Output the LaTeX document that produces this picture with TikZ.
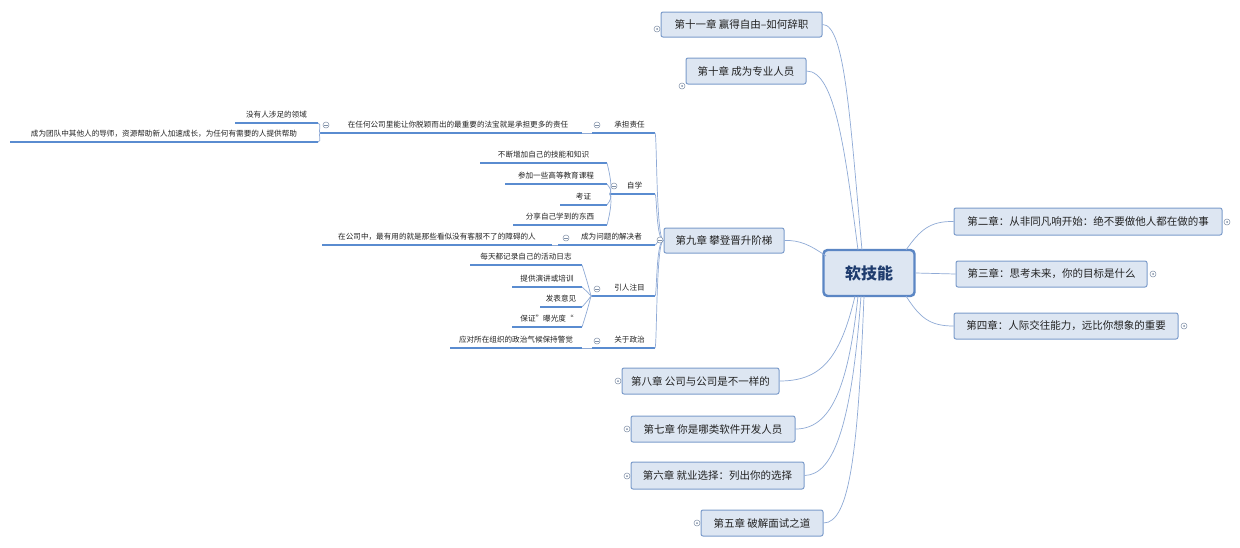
\documentclass[tikz,border=0pt]{standalone}
\usepackage{fontspec}
\setmainfont{Noto Sans CJK SC}
\begin{document}
\begin{tikzpicture}[x=1pt,y=-1pt,
  chap/.style={draw=boxline,fill=boxfill,rounded corners=2pt,line width=1pt,inner sep=0pt,font=\fontsize{10.5}{12}\selectfont,text=txt},
  cen/.style={draw=cenline,fill=boxfill,rounded corners=4pt,line width=2.4pt,inner sep=0pt,font=\fontsize{16}{18}\selectfont\bfseries,text=centxt},
  lt/.style={font=\fontsize{7.6}{9}\selectfont,text=txt,inner sep=0pt},
  ul/.style={draw=ulc,line width=1.3pt},
  br/.style={draw=brc,line width=0.7pt},
  mk/.style={draw=mkc,line width=0.5pt,fill=white}]
\definecolor{boxline}{HTML}{7C9CCB}
\definecolor{boxfill}{HTML}{DDE6F2}
\definecolor{cenline}{HTML}{5B86C4}
\definecolor{centxt}{HTML}{1F3C6E}
\definecolor{txt}{HTML}{222222}
\definecolor{ulc}{HTML}{5A8CD0}
\definecolor{brc}{HTML}{8FAAD6}
\definecolor{mkc}{HTML}{7F8FA6}
\useasboundingbox[fill=white] (0,0) rectangle (1240,547);
\newcommand\leaf[5]{%
  \coordinate (#1-l) at (#2,#4); \coordinate (#1-r) at (#3,#4);
  \node[lt] (#1) at ({(#2+#3)/2},{#4-8}) {#5};
  \draw[ul] (#1-l) -- (#1-r);}
\newcommand\mkminus[2]{\draw[mk] (#1,#2) circle (3); \draw[mkc,line width=0.5pt] (#1-1.6,#2) -- (#1+1.6,#2);}
\newcommand\mkdot[2]{\draw[mk] (#1,#2) circle (3); \fill[mkc] (#1,#2) circle (1);}
% boxes
\node[cen,minimum width=91,minimum height=46] (c) at (869,273) {软技能};
\node[chap,minimum width=161,minimum height=25] (n11) at (741.5,24.5) {第十一章 赢得自由--如何辞职};
\node[chap,minimum width=120,minimum height=26] (n10) at (746,71) {第十章 成为专业人员};
\node[chap,minimum width=120,minimum height=25] (n9) at (724,240.5) {第九章 攀登晋升阶梯};
\node[chap,minimum width=268,minimum height=27] (n2) at (1088,221.5) {第二章：从非同凡响开始：绝不要做他人都在做的事};
\node[chap,minimum width=191,minimum height=26] (n3) at (1051.5,274) {第三章：思考未来，你的目标是什么};
\node[chap,minimum width=224,minimum height=26] (n4) at (1066,326) {第四章：人际交往能力，远比你想象的重要};
\node[chap,minimum width=157,minimum height=26] (n8) at (700.5,381) {第八章 公司与公司是不一样的};
\node[chap,minimum width=164,minimum height=26] (n7) at (713,429) {第七章 你是哪类软件开发人员};
\node[chap,minimum width=173,minimum height=27] (n6) at (717.5,475.5) {第六章 就业选择：列出你的选择};
\node[chap,minimum width=122,minimum height=26] (n5) at (762,523) {第五章 破解面试之道};
% main branches
\draw[br] (862,250) .. controls (850,120) and (845,24) .. (n11.east);
\draw[br] (858,250) .. controls (845,150) and (835,71) .. (n10.east);
\draw[br] (826,256) .. controls (810,245) and (800,240) .. (n9.east);
\draw[br] (906,250) .. controls (920,230) and (930,221) .. (n2.west);
\draw[br] (c.east) -- (n3.west);
\draw[br] (906,296) .. controls (920,318) and (930,326) .. (n4.west);
\draw[br] (855,296) .. controls (840,360) and (820,381) .. (n8.east);
\draw[br] (858,296) .. controls (848,390) and (830,429) .. (n7.east);
\draw[br] (861,296) .. controls (852,420) and (835,475) .. (n6.east);
\draw[br] (864,296) .. controls (858,450) and (850,523) .. (n5.east);
% collapse markers
\mkdot{657}{29} \mkdot{682}{86} \mkdot{1227}{222} \mkdot{1153}{274} \mkdot{1184}{326}
\mkdot{618}{381} \mkdot{627}{429} \mkdot{627}{476} \mkdot{697}{523}
% level 2
\leaf{a1}{592}{655}{133}{\hspace*{12pt}承担责任}
\leaf{a2}{610}{655}{194}{\hspace*{4pt}自学}
\leaf{a3}{558}{655}{245}{\hspace*{10pt}成为问题的解决者}
\leaf{a4}{592}{655}{296}{\hspace*{12pt}引人注目}
\leaf{a5}{592}{655}{348}{\hspace*{12pt}关于政治}
\foreach \y in {133,194,245,296,348}{\draw[br] (n9.west) .. controls (656,240) and (657,\y) .. (655,\y);}
\mkminus{597}{125} \mkminus{614}{186} \mkminus{566}{238} \mkminus{597}{289} \mkminus{597}{341} \mkminus{660}{240}
% level 3
\leaf{b1}{320}{582}{133}{\hspace*{14pt}在任何公司里能让你脱颖而出的最重要的法宝就是承担更多的责任}
\mkminus{326}{125}
\draw[br] (a1-l) -- (b1-r);
\leaf{b11}{235}{318}{123}{没有人涉足的领域}
\leaf{b12}{10}{318}{142}{成为团队中其他人的导师，资源帮助新人加速成长，为任何有需要的人提供帮助}
\draw[br] (b1-l) .. controls (318,133) and (322,123) .. (b11-r);
\draw[br] (b1-l) .. controls (318,133) and (322,142) .. (b12-r);
\leaf{c1}{480}{607}{163}{不断增加自己的技能和知识}
\leaf{c2}{505}{607}{184}{参加一些高等教育课程}
\leaf{c3}{560}{607}{205}{考证}
\leaf{c4}{513}{607}{225}{分享自己学到的东西}
\foreach \n in {c1,c2,c3,c4}{\draw[br] (a2-l) .. controls (608,194) and (615,194) .. ([xshift=0pt]\n-r);}
\leaf{d1}{322}{552}{245}{在公司中，最有用的就是那些看似没有客服不了的障碍的人}
\draw[br] (d1-r) -- (a3-l);
\leaf{e1}{470}{582}{265}{每天都记录自己的活动日志}
\leaf{e2}{512}{582}{287}{提供演讲或培训}
\leaf{e3}{540}{582}{307}{发表意见}
\leaf{e4}{512}{582}{327}{保证”曝光度“}
\foreach \n in {e1,e2,e3,e4}{\draw[br] (a4-l) .. controls (590,296) and (592,296) .. (\n-r);}
\leaf{f1}{450}{582}{348}{应对所在组织的政治气候保持警觉}
\draw[br] (f1-r) -- (a5-l);
\end{tikzpicture}
\end{document}
